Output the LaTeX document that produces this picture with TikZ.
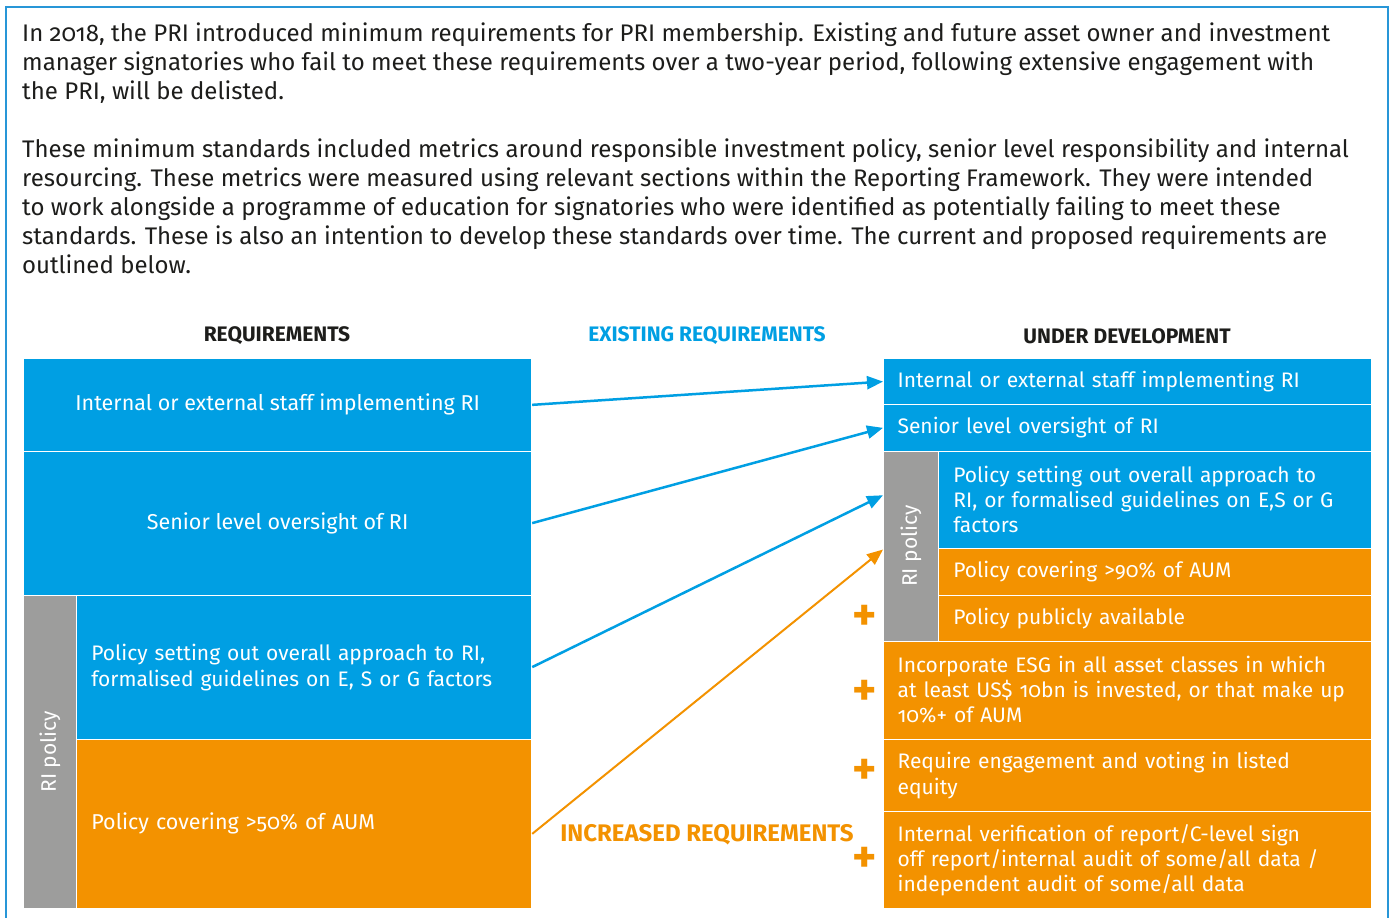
\documentclass[tikz,border=0pt]{standalone}
\usepackage{fontspec}
\setmainfont{Fira Sans}[Numbers=OldStyle]
\usetikzlibrary{arrows.meta,calc}
\definecolor{priblue}{RGB}{0,159,227}
\definecolor{priorange}{RGB}{243,146,0}
\definecolor{prigray}{RGB}{157,157,156}
\definecolor{pritext}{RGB}{29,29,27}
\definecolor{frameblue}{RGB}{40,150,215}
\tikzset{
  x=1pt, y=-1pt,
  cell/.style={draw=white, line width=1.2pt, anchor=north west, inner sep=0pt,
    text=white, font=\fontsize{21}{26}\selectfont},
  bluecell/.style={cell, fill=priblue},
  orangecell/.style={cell, fill=priorange},
  graycell/.style={cell, fill=prigray},
  lefttext/.style={align=left, inner xsep=15pt},
  para/.style={anchor=north west, inner sep=0pt, align=left, text=pritext,
    font=\fontsize{24}{29}\selectfont},
  header/.style={font=\fontsize{21}{24}\selectfont\bfseries, inner sep=0pt},
  bluearrow/.style={draw=priblue, line width=2.5pt, -{Triangle[length=16pt,width=13pt]}},
  orangearrow/.style={draw=priorange, line width=2pt, -{Triangle[length=16pt,width=13pt]}},
  plussign/.style={text=priorange, font=\fontsize{46}{46}\selectfont\bfseries, inner sep=0pt}
}
\begin{document}
\begin{tikzpicture}
\useasboundingbox (0,0) rectangle (1398,918);
\fill[white] (0,0) rectangle (1398,918);
\draw[frameblue, line width=1.5pt] (6,918) -- (6,7) -- (1388,7) -- (1388,918);

\node[para] (p1) at (22,23) {In 2018, the PRI introduced minimum requirements for PRI membership. Existing and future asset owner and investment\\
manager signatories who fail to meet these requirements over a two-year period, following extensive engagement with\\
the PRI, will be delisted.};
\node[para] (p2) at (22,139) {These minimum standards included metrics around responsible investment policy, senior level responsibility and internal\\
resourcing. These metrics were measured using relevant sections within the Reporting Framework. They were intended\\
to work alongside a programme of education for signatories who were identified as potentially failing to meet these\\
standards. These is also an intention to develop these standards over time. The current and proposed requirements are\\
outlined below.};

\node[header, text=pritext] (h1) at (277,336) {REQUIREMENTS};
\node[header, text=priblue] (h2) at (707,336) {EXISTING REQUIREMENTS};
\node[header, text=pritext] (h3) at (1127,336) {UNDER DEVELOPMENT};

% left column
\node[bluecell, minimum width=508pt, minimum height=92.5pt, font=\fontsize{21.5}{26}\selectfont] (L1) at (23,358) {Internal or external staff implementing RI};
\node[bluecell, minimum width=508pt, minimum height=144pt, font=\fontsize{21.5}{26}\selectfont] (L2) at (23,450.5) {Senior level oversight of RI};
\node[graycell, minimum width=52.5pt, minimum height=313.5pt] (G1) at (23,594.5) {};
\node[text=white, font=\fontsize{21}{26}\selectfont, rotate=90, inner sep=0pt] (G1t) at (G1.center) {RI policy};
\node[bluecell, lefttext, minimum width=455.5pt, minimum height=144pt, text width=425pt] (L3) at (75.5,594.5) {Policy setting out overall approach to RI,\\ formalised guidelines on E, S or G factors};
\node[orangecell, lefttext, minimum width=455.5pt, minimum height=169.5pt, text width=425pt, font=\fontsize{21.5}{26}\selectfont] (L4) at (75.5,738.5) {Policy covering >50\% of AUM};

% right column
\node[bluecell, lefttext, inner xsep=14pt, minimum width=488pt, minimum height=46pt, text width=460pt] (R1) at (883,358) {Internal or external staff implementing RI};
\node[bluecell, lefttext, inner xsep=14pt, minimum width=488pt, minimum height=46.5pt, text width=460pt] (R2) at (883,404) {Senior level oversight of RI};
\node[graycell, minimum width=54.5pt, minimum height=190pt] (G2) at (883,450.5) {};
\node[text=white, font=\fontsize{21}{26}\selectfont, rotate=90, inner sep=0pt] (G2t) at (G2.center) {RI policy};
\node[bluecell, lefttext, minimum width=433.5pt, minimum height=97pt, text width=403pt, font=\fontsize{21}{25}\selectfont] (R3) at (937.5,450.5) {Policy setting out overall approach to\\ RI, or formalised guidelines on E,S or G\\ factors};
\node[orangecell, lefttext, minimum width=433.5pt, minimum height=47pt, text width=403pt] (R4) at (937.5,547.5) {Policy covering >90\% of AUM};
\node[orangecell, lefttext, minimum width=433.5pt, minimum height=46pt, text width=403pt] (R5) at (937.5,594.5) {Policy publicly available};
\node[orangecell, lefttext, inner xsep=14pt, minimum width=488pt, minimum height=98pt, text width=460pt, font=\fontsize{21}{25}\selectfont] (R6) at (883,640.5) {Incorporate ESG in all asset classes in which\\ at least US\$ 10bn is invested, or that make up\\ 10\%+ of AUM};
\node[orangecell, lefttext, inner xsep=14pt, minimum width=488pt, minimum height=72pt, text width=460pt, font=\fontsize{21}{26}\selectfont] (R7) at (883,738.5) {Require engagement and voting in listed\\ equity};
\node[orangecell, lefttext, inner xsep=14pt, minimum width=488pt, minimum height=97.5pt, text width=460pt, font=\fontsize{21}{25}\selectfont] (R8) at (883,810.5) {Internal verification of report/C-level sign\\ off report/internal audit of some/all data /\\ independent audit of some/all data};

% plus signs
\node[plussign] (s1) at (865,618) {+};
\node[plussign] (s2) at (865,693) {+};
\node[plussign] (s3) at (865,772) {+};
\node[plussign] (s4) at (865,860) {+};

\node[header, text=priorange, font=\fontsize{24}{26}\selectfont\bfseries] (h4) at (707,835) {INCREASED REQUIREMENTS};

% arrows
\draw[bluearrow] (L1.east) -- (R1.west);
\draw[bluearrow] (L2.east) -- (R2.west);
\coordinate (g2a) at ($(G2.north west)!0.234!(G2.south west)$);
\coordinate (g2b) at ($(G2.north west)!0.518!(G2.south west)$);
\coordinate (l4a) at ($(L4.east)+(0,10)$);
\draw[bluearrow] (L3.east) -- (g2a);
\draw[orangearrow] (l4a) -- (g2b);
\end{tikzpicture}
\end{document}
